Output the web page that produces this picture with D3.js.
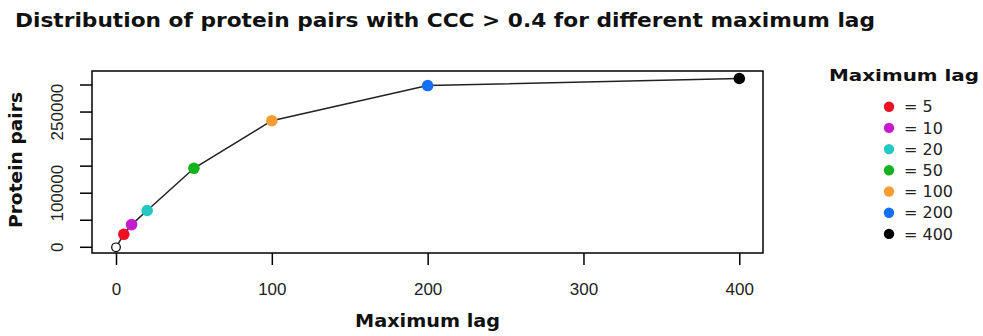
<!DOCTYPE html>
<meta charset="utf-8">
<style>
    body {
        margin: 0;
        padding: 0;
        background: #fff;
    }
    .title, .axis-title, .legend-title {
        font-family: "DejaVu Sans", Verdana, sans-serif;
        font-weight: bold;
        fill: #111;
    }
    .axis text {
        font-family: "Liberation Sans", Arial, sans-serif;
        font-size: 17px;
        fill: #222;
    }
    .axis path { display: none; }
    .axis line { stroke: #000; stroke-width: 1.5; }
    .legend text {
        font-family: "DejaVu Sans", Verdana, sans-serif;
        font-size: 16px;
        fill: #222;
    }
</style>
<body>
<script src="https://d3js.org/d3.v7.min.js"></script>
<script>
    // data
    var lags  = [0, 5, 10, 20, 50, 100, 200, 400];
    var pairs = [0, 24000, 42000, 68000, 146000, 234000, 299000, 312000];
    var pointColors = ["none", "#ee1125", "#c51bcc", "#22c9c3", "#14b21c", "#f99d33", "#146ff5", "#000000"];

    var legendLabels = ["= 5", "= 10", "= 20", "= 50", "= 100", "= 200", "= 400"];
    var legendColors = ["#ee1125", "#c51bcc", "#22c9c3", "#14b21c", "#f99d33", "#146ff5", "#000000"];

    var xTicks = [0, 100, 200, 300, 400];
    var yTicks = [0, 50000, 100000, 150000, 200000, 250000, 300000];
    var yTickLabels = ["0", "", "100000", "", "", "250000", ""];

    var width = 983, height = 336;
    var box = {left: 92, right: 763, top: 71, bottom: 253};

    var svg = d3.select("body")
        .append("svg")
        .attr("width", width)
        .attr("height", height);

    var x = d3.scaleLinear().domain([0, 400]).range([116, 739.3]);
    var y = d3.scaleLinear().domain([0, 300000]).range([247.3, 85]);

    // title (the original font is wider, stretch to its width)
    svg.append("text")
        .attr("class", "title")
        .attr("x", 15)
        .attr("y", 27)
        .attr("textLength", 860)
        .attr("lengthAdjust", "spacingAndGlyphs")
        .style("font-size", "19px")
        .text("Distribution of protein pairs with CCC > 0.4 for different maximum lag");

    // plot frame
    svg.append("rect")
        .attr("x", box.left)
        .attr("y", box.top)
        .attr("width", box.right - box.left)
        .attr("height", box.bottom - box.top)
        .attr("fill", "none")
        .attr("stroke", "#000")
        .attr("stroke-width", 1.5);

    // x axis
    svg.append("g")
        .attr("class", "axis")
        .attr("transform", "translate(0," + box.bottom + ")")
        .call(d3.axisBottom(x).tickValues(xTicks).tickSize(12).tickPadding(18).tickFormat(d3.format("d")));

    // y axis, labels parallel to the axis
    var yAxis = svg.append("g")
        .attr("class", "axis")
        .attr("transform", "translate(" + box.left + ",0)")
        .call(d3.axisLeft(y).tickValues(yTicks).tickSize(12)
            .tickFormat(function(d, i) { return yTickLabels[i]; }));
    yAxis.selectAll(".tick").attr("transform", "translate(0,0)");
    yAxis.selectAll(".tick line")
        .attr("y1", function(d) { return y(d); })
        .attr("y2", function(d) { return y(d); });
    yAxis.selectAll("text")
        .attr("x", null)
        .attr("y", 0)
        .attr("dy", null)
        .attr("text-anchor", "middle")
        .attr("transform", function(d) { return "translate(-29," + y(d) + ") rotate(-90)"; });

    // axis titles
    svg.append("text")
        .attr("class", "axis-title")
        .attr("x", (box.left + box.right) / 2)
        .attr("y", 327)
        .attr("text-anchor", "middle")
        .attr("textLength", 145)
        .attr("lengthAdjust", "spacingAndGlyphs")
        .style("font-size", "17px")
        .text("Maximum lag");

    svg.append("text")
        .attr("class", "axis-title")
        .attr("transform", "translate(22,160) rotate(-90)")
        .attr("text-anchor", "middle")
        .attr("textLength", 136)
        .attr("lengthAdjust", "spacingAndGlyphs")
        .style("font-size", "17px")
        .text("Protein pairs");

    // line
    var pts = lags.map(function(d, i) { return [d, pairs[i]]; });
    svg.append("path")
        .datum(pts)
        .attr("fill", "none")
        .attr("stroke", "#222")
        .attr("stroke-width", 1.5)
        .attr("d", d3.line().x(function(d) { return x(d[0]); }).y(function(d) { return y(d[1]); }));

    // points
    svg.selectAll(".pt")
        .data(pts)
        .enter().append("circle")
        .attr("class", "pt")
        .attr("cx", function(d) { return x(d[0]); })
        .attr("cy", function(d) { return y(d[1]); })
        .attr("r", function(d, i) { return i === 0 ? 4.3 : 5.8; })
        .attr("fill", function(d, i) { return i === 0 ? "#fff" : pointColors[i]; })
        .attr("stroke", function(d, i) { return i === 0 ? "#000" : "none"; })
        .attr("stroke-width", 1.2);

    // legend
    svg.append("text")
        .attr("class", "legend-title")
        .attr("x", 829)
        .attr("y", 81)
        .attr("textLength", 150)
        .attr("lengthAdjust", "spacingAndGlyphs")
        .style("font-size", "16px")
        .text("Maximum lag");

    var legend = svg.append("g").attr("class", "legend");
    var item = legend.selectAll("g")
        .data(legendLabels)
        .enter().append("g")
        .attr("transform", function(d, i) { return "translate(889," + (106.7 + i * 21.2) + ")"; });
    item.append("circle")
        .attr("r", 5.2)
        .attr("fill", function(d, i) { return legendColors[i]; });
    item.append("text")
        .attr("x", 15)
        .attr("dy", "0.36em")
        .text(function(d) { return d; });
</script>
</body>
</html>
